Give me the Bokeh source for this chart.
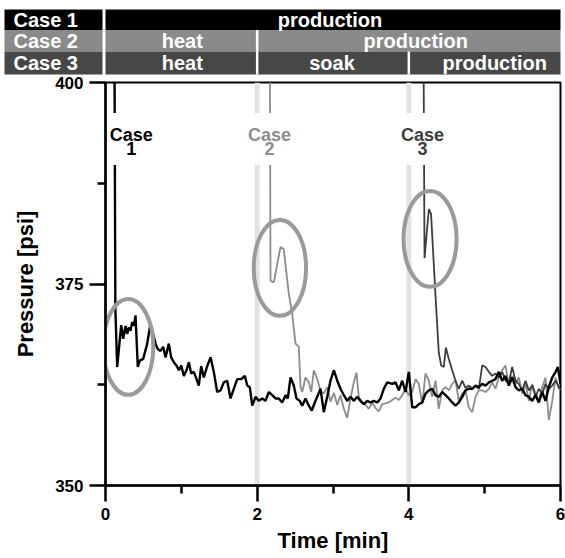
from bokeh.plotting import figure
from bokeh.models import Range1d, FixedTicker, Span
from bokeh.layouts import column
from bokeh.embed import file_html
from bokeh.resources import INLINE
from bokeh.core.properties import value

# ---------------- data ----------------
case_names = ["Case 1", "Case 2", "Case 3"]
phase_case = ["Case 1", "Case 2", "Case 2", "Case 3", "Case 3", "Case 3"]
phase_start = [0, 0, 2, 0, 2, 4]
phase_end = [6, 2, 6, 2, 4, 6]
phase_name = ["production", "heat", "production", "heat", "soak", "production"]
phase_boundaries = [2, 4]

x_ticks = [0, 2, 4, 6]
x_minor_ticks = [1, 3, 5]
y_ticks = [350, 375, 400]
y_minor_ticks = [362.5, 387.5]

case1_time = [0.105, 0.130, 0.154, 0.207, 0.233, 0.264, 0.286, 0.307, 0.330, 0.352,
              0.373, 0.396, 0.426, 0.452, 0.497, 0.550, 0.593, 0.629, 0.659, 0.690,
              0.725, 0.761, 0.791, 0.835, 0.866, 0.901, 0.936, 0.967, 0.998, 1.033,
              1.068, 1.099, 1.130, 1.164, 1.200, 1.230, 1.262, 1.296, 1.341, 1.385,
              1.428, 1.473, 1.517, 1.560, 1.605, 1.648, 1.692, 1.737, 1.790, 1.837,
              1.869, 1.903, 1.935, 1.978, 2.022, 2.066, 2.110, 2.154, 2.198, 2.242,
              2.285, 2.330, 2.374, 2.404, 2.440, 2.483, 2.519, 2.562, 2.594, 2.637,
              2.681, 2.720, 2.760, 2.792, 2.835, 2.879, 2.924, 2.967, 3.011, 3.056,
              3.099, 3.143, 3.187, 3.231, 3.274, 3.319, 3.363, 3.406, 3.451, 3.495,
              3.538, 3.583, 3.627, 3.670, 3.715, 3.781, 3.824, 3.868, 3.913, 3.956,
              4.000, 4.045, 4.088, 4.132, 4.176, 4.220, 4.264, 4.308, 4.352, 4.395,
              4.440, 4.484, 4.527, 4.572, 4.616, 4.659, 4.704, 4.747, 4.791, 4.836,
              4.879, 4.923, 4.968, 5.011, 5.055, 5.100, 5.143, 5.187, 5.231, 5.275,
              5.319, 5.363, 5.407, 5.450, 5.495, 5.539, 5.582, 5.627, 5.671, 5.714,
              5.759, 5.802, 5.846, 5.891, 5.935, 5.965, 6.000]
case1_psi = [440.0, 372.0, 364.7, 369.9, 368.2, 369.8, 368.8, 369.6, 369.2, 370.3,
             369.8, 371.1, 364.7, 365.5, 365.7, 367.6, 370.1, 368.8, 367.6, 366.9,
             366.7, 367.2, 365.9, 367.6, 365.9, 365.3, 364.9, 364.3, 364.9, 363.6,
             364.3, 365.3, 363.9, 364.1, 363.2, 362.4, 364.8, 363.4, 364.8, 365.9,
             364.1, 361.6, 361.8, 362.8, 363.0, 360.8, 362.0, 363.2, 363.2, 363.6,
             362.4, 362.2, 359.9, 361.0, 360.5, 360.8, 360.5, 361.6, 361.2, 360.8,
             360.8, 360.3, 361.2, 360.8, 363.4, 362.4, 360.8, 360.5, 359.9, 360.8,
             359.9, 359.3, 360.3, 361.0, 362.0, 359.1, 361.0, 363.0, 364.3, 363.0,
             362.0, 361.2, 360.5, 361.0, 360.5, 361.0, 360.5, 360.1, 360.5, 360.3,
             360.5, 360.3, 360.8, 362.0, 362.8, 362.6, 362.8, 361.8, 363.0, 361.6,
             364.1, 359.7, 359.7, 360.1, 360.3, 361.4, 361.8, 362.0, 361.2, 361.0,
             361.6, 361.2, 360.8, 360.3, 359.9, 360.3, 361.0, 361.8, 362.0, 362.0,
             362.4, 362.2, 362.6, 362.4, 362.8, 363.0, 363.2, 364.1, 363.0, 363.6,
             362.4, 363.4, 362.2, 361.8, 362.0, 361.2, 361.0, 360.5, 361.2, 360.3,
             361.6, 360.5, 362.2, 363.4, 364.1, 364.7, 362.6]

case2_time = [2.156, 2.176, 2.219, 2.308, 2.351, 2.417, 2.462, 2.506, 2.549, 2.572,
              2.594, 2.637, 2.681, 2.713, 2.747, 2.792, 2.835, 2.879, 2.924, 2.967,
              3.011, 3.056, 3.099, 3.143, 3.187, 3.231, 3.274, 3.310, 3.340, 3.385,
              3.429, 3.472, 3.517, 3.561, 3.605, 3.649, 3.692, 3.736, 3.781, 3.824,
              3.868, 3.913, 3.956, 4.000, 4.045, 4.088, 4.132, 4.176, 4.220, 4.264,
              4.308, 4.352, 4.395, 4.440, 4.484, 4.527, 4.572, 4.616, 4.659, 4.704,
              4.747, 4.791, 4.836, 4.879, 4.923, 4.968, 5.011, 5.055, 5.100, 5.143,
              5.187, 5.231, 5.275, 5.319, 5.363, 5.407, 5.450, 5.495, 5.539, 5.582,
              5.627, 5.671, 5.714, 5.759, 5.802, 5.846, 5.891, 5.935, 5.979, 6.000]
case2_psi = [440.0, 375.4, 375.2, 379.6, 379.3, 373.8, 371.3, 367.6, 367.2, 362.2,
             361.6, 363.4, 362.8, 361.6, 364.3, 363.2, 361.8, 361.4, 362.2, 360.4,
             361.5, 360.0, 361.2, 359.5, 358.4, 360.8, 362.8, 364.0, 361.0, 360.2,
             360.0, 359.5, 360.3, 359.6, 359.2, 360.1, 360.2, 360.3, 360.6, 360.9,
             360.6, 361.2, 362.0, 361.2, 361.6, 363.2, 362.6, 360.1, 363.9, 363.0,
             361.0, 363.0, 359.5, 361.8, 362.2, 361.8, 362.6, 363.0, 360.5, 361.4,
             361.8, 359.7, 359.1, 361.0, 361.8, 361.8, 361.6, 362.0, 362.8, 362.0,
             363.4, 364.3, 364.9, 362.4, 363.6, 362.6, 363.4, 361.4, 362.6, 360.5,
             362.6, 361.4, 360.5, 362.2, 363.4, 358.1, 360.5, 363.4, 362.0, 361.8]

case3_time = [4.176, 4.207, 4.264, 4.293, 4.352, 4.395, 4.426, 4.461, 4.489, 4.527,
              4.572, 4.616, 4.659, 4.704, 4.747, 4.791, 4.836, 4.879, 4.923, 4.968,
              5.011, 5.055, 5.100, 5.143, 5.187, 5.231, 5.275, 5.319, 5.363, 5.407,
              5.450, 5.495, 5.539, 5.582, 5.627, 5.671, 5.714, 5.759, 5.802, 5.846,
              5.891, 5.935, 5.979, 6.000]
case3_psi = [440.0, 378.2, 384.3, 383.7, 373.5, 366.5, 364.9, 364.7, 367.1, 365.7,
             364.3, 363.0, 362.0, 363.0, 362.1, 362.4, 362.0, 362.4, 362.0, 364.9,
             364.7, 364.1, 363.6, 363.9, 363.4, 364.1, 363.0, 362.8, 364.7, 363.0,
             362.6, 361.8, 363.0, 361.8, 362.4, 361.0, 362.0, 361.4, 362.6, 362.0,
             362.4, 363.0, 362.2, 362.0]

# circled features
highlight_time = [0.30, 2.30, 4.28]
highlight_psi = [367.2, 377.0, 380.6]
highlight_width = [0.66, 0.69, 0.70]
highlight_height = [11.9, 11.9, 11.9]
case_label_time = [0.34, 2.163, 4.18]
case_label_num = ["1", "2", "3"]

# ---------------- style ----------------
FONT = value("Liberation Sans")
line_colors = ["#000000", "#8c8c8c", "#3d3d3d"]
header_colors = ["#000000", "#8a8a8a", "#474747"]
phase_label_nudge_px = [-3, 1, 7, 1, -1, 10]

W, H_HEAD, H_MAIN = 565, 75, 483
FL, FR = 105, 560
X0, X1 = x_ticks[0], x_ticks[-1]
ppm = (FR - FL) / (X1 - X0)
hx0 = X0 - FL / ppm
hx1 = X1 + (W - FR) / ppm

# ---------------- header ----------------
head = figure(width=W, height=H_HEAD, x_range=Range1d(hx0, hx1), y_range=Range1d(H_HEAD, 0),
              x_axis_location=None, y_axis_location=None, toolbar_location=None,
              output_backend="svg", min_border=0, outline_line_color=None)
head.grid.visible = False
head.frame_align = False

row_top = [9, 29.5, 51]
row_bot = [29.5, 51, 74]
row_mid = [(a + b) / 2 for a, b in zip(row_top, row_bot)]

head.quad(left=[hx0 + 4 / ppm] * 3, right=[X0 - 3 / ppm] * 3, top=row_top, bottom=row_bot,
          fill_color=header_colors, line_color=None)
rows = [case_names.index(c) for c in phase_case]
head.quad(left=phase_start, right=phase_end, top=[row_top[r] for r in rows],
          bottom=[row_bot[r] for r in rows], fill_color=[header_colors[r] for r in rows],
          line_color=None)
sep = [i for i in range(len(phase_start)) if phase_start[i] > X0]
head.segment(x0=[phase_start[i] for i in sep], x1=[phase_start[i] for i in sep],
             y0=[row_top[rows[i]] for i in sep], y1=[row_bot[rows[i]] for i in sep],
             line_color="white", line_width=2.5)
head.text(x=[hx0 + 13 / ppm] * 3, y=row_mid, text=case_names, text_color="white",
          text_font=FONT, text_font_style="bold", text_font_size="20px",
          text_align="left", text_baseline="middle")
head.text(x=[(a + b) / 2 + n / ppm for a, b, n in zip(phase_start, phase_end, phase_label_nudge_px)],
          y=[row_mid[r] for r in rows],
          text=phase_name, text_color="white", text_font=FONT, text_font_style="bold",
          text_font_size="20px", text_align="center", text_baseline="middle")

# ---------------- main plot ----------------
p = figure(width=W, height=H_MAIN, x_range=Range1d(X0, X1), y_range=Range1d(y_ticks[0], y_ticks[-1]),
           toolbar_location=None, output_backend="svg",
           min_border_left=FL, min_border_right=W - FR, min_border_top=7, min_border_bottom=73,
           x_axis_label="Time [min]", y_axis_label="Pressure [psi]")
p.frame_align = False
p.grid.visible = False
p.outline_line_color = "black"
p.outline_line_width = 2

p.xaxis.ticker = FixedTicker(ticks=x_ticks, minor_ticks=x_minor_ticks)
p.yaxis.ticker = FixedTicker(ticks=y_ticks, minor_ticks=y_minor_ticks)
for ax in (p.xaxis[0], p.yaxis[0]):
    ax.axis_line_width = 2.5
    ax.axis_line_color = "black"
    ax.major_tick_line_width = 2.5
    ax.minor_tick_line_width = 2.5
    ax.major_tick_line_color = "black"
    ax.minor_tick_line_color = "black"
    ax.major_tick_out = 16
    ax.major_tick_in = 0
    ax.minor_tick_out = 8
    ax.minor_tick_in = 0
    ax.major_label_text_font = "Liberation Sans"
    ax.major_label_text_font_style = "bold"
    ax.major_label_text_font_size = "17px"
    ax.major_label_text_color = "black"
    ax.major_label_standoff = 6
    ax.axis_label_text_font = "Liberation Sans"
    ax.axis_label_text_font_style = "bold"
    ax.axis_label_text_font_size = "22px"
    ax.axis_label_text_color = "black"
p.xaxis.axis_label_standoff = 5
p.yaxis.axis_label_standoff = 14

for b in phase_boundaries:
    p.add_layout(Span(location=b, dimension="height", line_color="#e2e2e2",
                      line_width=5, level="underlay"))

p.line(case2_time, case2_psi, line_color=line_colors[1], line_width=1.8)
p.line(case3_time, case3_psi, line_color=line_colors[2], line_width=1.8)
p.line(case1_time, case1_psi, line_color=line_colors[0], line_width=2.4)

p.ellipse(x=highlight_time, y=highlight_psi, width=highlight_width, height=highlight_height,
          fill_color=None, line_color="#9a9a9a", line_width=4)

label_psi = 393.0
p.rect(x=case_label_time, y=[label_psi] * 3, width=47, height=52,
       width_units="screen", height_units="screen", fill_color="white", line_color=None)
p.text(x=case_label_time, y=[label_psi] * 3, text=["Case"] * 3, text_color=line_colors,
       text_font=FONT, text_font_style="bold", text_font_size="18px",
       text_align="center", text_baseline="middle", y_offset=-4)
p.text(x=case_label_time, y=[label_psi] * 3, text=case_label_num, text_color=line_colors,
       text_font=FONT, text_font_style="bold", text_font_size="18px",
       text_align="center", text_baseline="middle", y_offset=10)

layout = column(head, p, spacing=0)
open("out.html", "w").write(file_html(layout, INLINE))
